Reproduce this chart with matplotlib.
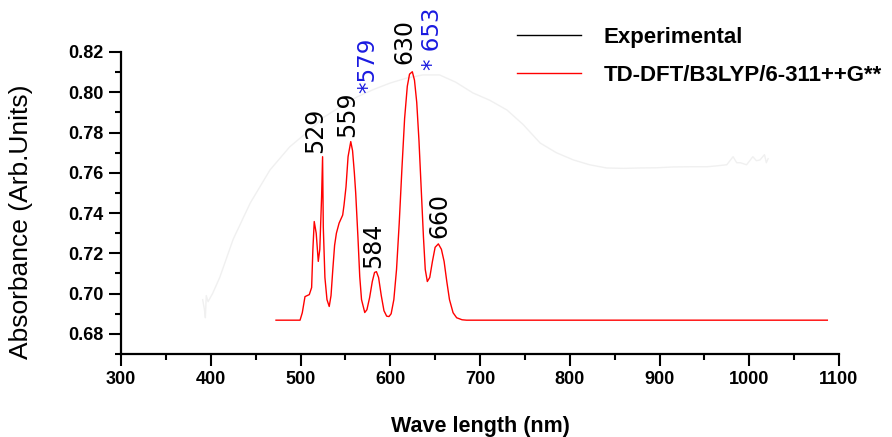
import matplotlib
matplotlib.use("Agg")
import matplotlib.pyplot as plt
from matplotlib.lines import Line2D
from matplotlib.ticker import MultipleLocator

# experimental spectrum
exp_nm = [391, 393, 394, 395, 397, 402, 410, 425, 444, 466, 488, 507, 525, 545,
          563, 582, 600, 618, 636, 655, 673, 692, 711, 730, 748, 767, 785, 804,
          822, 841, 860, 878, 897, 915, 934, 953, 965, 975, 982, 986, 990, 997,
          1004, 1008, 1012, 1015, 1017, 1019, 1021]
exp_abs = [0.697, 0.692, 0.688, 0.699, 0.696, 0.700, 0.708, 0.727, 0.745, 0.7614,
           0.7729, 0.780, 0.7873, 0.793, 0.7977, 0.8015, 0.8046, 0.807, 0.8086,
           0.8086, 0.805, 0.7997, 0.796, 0.7912, 0.784, 0.7748, 0.770, 0.7664,
           0.764, 0.7624, 0.7622, 0.7624, 0.7625, 0.7629, 0.763, 0.763, 0.7635,
           0.764, 0.768, 0.765, 0.765, 0.764, 0.768, 0.766, 0.7664, 0.768, 0.769,
           0.765, 0.767]

# TD-DFT spectrum
dft_nm = [472.7, 499.5, 502, 505, 509.8, 512.4, 513.8, 515.3, 517.5, 519.8, 521.5,
          522.5, 523.5, 524.6, 525.4, 527.2, 529.5, 532, 534, 536, 538, 540, 543,
          547, 548.5, 550.7, 553, 556, 558, 560, 561.5, 564, 566, 568, 571.6, 574,
          577, 580, 582.5, 584.6, 587, 590, 593, 596, 598.6, 601, 604, 607, 610,
          613, 616, 619, 621.5, 624.6, 627, 629.5, 632, 634.5, 637, 639, 641.3,
          644, 647, 650, 653.6, 657, 660, 663, 666, 670, 674, 680, 685, 1087]
dft_abs = [0.6868, 0.6868, 0.6905, 0.6985, 0.6995, 0.703, 0.722, 0.7358, 0.730,
           0.716, 0.722, 0.735, 0.748, 0.768, 0.733, 0.708, 0.697, 0.6936, 0.699,
           0.712, 0.724, 0.730, 0.735, 0.739, 0.744, 0.753, 0.768, 0.7755, 0.771,
           0.760, 0.750, 0.728, 0.7085, 0.697, 0.6906, 0.692, 0.698, 0.706, 0.7105,
           0.7109, 0.708, 0.699, 0.6915, 0.6888, 0.6886, 0.690, 0.697, 0.712, 0.735,
           0.762, 0.787, 0.803, 0.809, 0.8102, 0.806, 0.795, 0.776, 0.752, 0.728,
           0.712, 0.706, 0.708, 0.716, 0.723, 0.7247, 0.722, 0.716, 0.706, 0.697,
           0.6905, 0.688, 0.687, 0.6868, 0.6868]

peak_labels = ['529', '559', '584', '630', '660']
peak_x = [516, 552, 581, 616, 655]
peak_y = [0.7699, 0.7778, 0.7128, 0.814, 0.7277]

exp_labels = ['*579', '* 653']
exp_x = [575, 647.5]
exp_y = [0.7997, 0.8111]

sans = ['Liberation Sans', 'DejaVu Sans']

fig = plt.figure(figsize=(8.92, 4.37), dpi=100)
ax = fig.add_axes([121/892, 1 - 354/437, 718/892, 302/437])

ax.plot(exp_nm, exp_abs, color='#f0f0f0', lw=1)
ax.plot(dft_nm, dft_abs, color='red', lw=1)

for t, x, y in zip(peak_labels, peak_x, peak_y):
    ax.text(x, y, t, rotation=90, ha='center', va='bottom', fontsize=17,
            family='DejaVu Sans', color='black')
for t, x, y in zip(exp_labels, exp_x, exp_y):
    ax.text(x, y, t, rotation=90, ha='center', va='bottom', fontsize=16.5,
            family='DejaVu Sans', color='#1a1ae0')

ax.set_xlim(300, 1100)
ax.set_ylim(0.67, 0.82)
ax.xaxis.set_major_locator(MultipleLocator(100))
ax.xaxis.set_minor_locator(MultipleLocator(50))
ax.yaxis.set_minor_locator(MultipleLocator(0.01))
ax.set_yticks([0.68, 0.70, 0.72, 0.74, 0.76, 0.78, 0.80, 0.82])

for s in ['top', 'right']:
    ax.spines[s].set_visible(False)
for s in ['left', 'bottom']:
    ax.spines[s].set_linewidth(1.6)

ax.tick_params(axis='both', which='major', length=8.5, width=1.5, pad=4)
ax.tick_params(axis='both', which='minor', length=4.3, width=1.5)
for lab in ax.get_xticklabels() + ax.get_yticklabels():
    lab.set_family(sans)
    lab.set_fontweight('bold')
    lab.set_fontsize(13)

ax.set_xlabel('Wave length (nm)', family=sans, fontweight='bold', fontsize=15.5)
ax.xaxis.label.set_va('center')
ax.xaxis.set_label_coords(0.5, -0.24)
ax.set_ylabel('Absorbance (Arb.Units)', family=sans, fontsize=19)
ax.yaxis.set_label_coords(-0.123, 0.439)

handles = [Line2D([], [], color='black', lw=1),
           Line2D([], [], color='red', lw=1)]
ax.legend(handles, ['Experimental', 'TD-DFT/B3LYP/6-311++G**'], frameon=False,
          loc='upper left', bbox_to_anchor=(517/892, 1 - 27/437),
          bbox_transform=fig.transFigure, borderpad=0, borderaxespad=0,
          handlelength=2.9, handletextpad=1.0, labelspacing=0.75,
          prop={'family': sans, 'weight': 'bold', 'size': 16})

fig.savefig('out.png', dpi=100)
